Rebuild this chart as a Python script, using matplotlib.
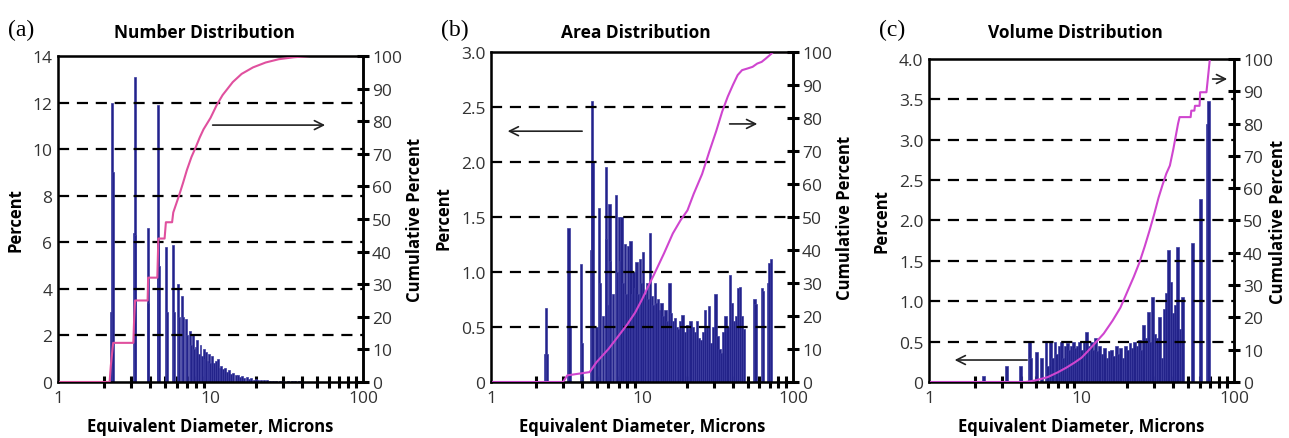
import matplotlib.pyplot as plt
import numpy as np

# ---- (a) Number distribution ----
a_diam = [2.22, 2.25, 2.28, 3.13, 3.18, 3.22, 3.88, 3.92, 4.5, 4.55, 4.6, 5.1, 5.15, 5.7, 5.75,
          6.15, 6.2, 6.55, 6.6, 6.95, 7.0, 7.3, 7.4, 7.7, 7.8, 8.0, 8.2, 8.4, 8.6, 8.8,
          9.0, 9.2, 9.4, 9.6, 9.8, 10.0, 10.3, 10.6, 10.9, 11.2, 11.5, 11.8, 12.1, 12.5, 12.9,
          13.3, 13.7, 14.1, 14.6, 15.1, 15.6, 16.1, 16.7, 17.3, 17.9, 18.5, 19.2, 19.9, 20.6, 21.5,
          22.5, 23.5, 24.5, 25.6, 27, 28.5, 30, 32, 34, 36, 38, 40, 43, 46]
a_pct = [3.0, 12.0, 9.0, 6.4, 13.1, 6.3, 6.6, 3.4, 6.0, 11.9, 5.0, 5.8, 3.0, 5.9, 3.0,
         4.2, 2.8, 3.7, 2.8, 2.7, 2.0, 2.2, 1.6, 2.0, 1.4, 1.5, 1.8, 1.2, 1.6, 1.1,
         1.4, 1.0, 1.3, 0.9, 1.2, 0.8, 1.1, 0.8, 0.9, 1.0, 0.6, 0.7, 0.55, 0.6, 0.45,
         0.5, 0.35, 0.4, 0.3, 0.32, 0.22, 0.25, 0.18, 0.2, 0.14, 0.15, 0.1, 0.12, 0.09, 0.08,
         0.07, 0.07, 0.06, 0.05, 0.05, 0.04, 0.04, 0.04, 0.03, 0.03, 0.03, 0.02, 0.02, 0.02]
a_cum_x = [1, 2.18, 2.22, 2.3, 3.12, 3.15, 3.2, 3.87, 3.9, 4.48, 4.55, 5.0, 5.1, 5.6, 5.7, 6.2,
           6.6, 7.0, 7.5, 8.0, 8.5, 9.0, 10, 11, 12, 14, 16, 19, 23, 28, 35, 45, 100]
a_cum = [0, 0, 5, 12, 12, 18, 25, 25, 32, 32, 44, 44, 49, 49, 52, 57,
         61, 65, 69, 72, 75, 77.5, 81, 85, 88, 92, 94.5, 96.5, 98, 99, 99.6, 100, 100]

# ---- (b) Area distribution ----
b_diam = [2.28, 2.32, 2.36, 3.27, 3.31, 3.95, 4.0, 4.62, 4.66, 4.7, 5.0, 5.2, 5.25, 5.5, 5.75,
          5.8, 6.0, 6.1, 6.15, 6.4, 6.7, 6.8, 7.05, 7.15, 7.3, 7.5, 7.7, 7.9, 8.1, 8.4,
          8.6, 8.8, 9.0, 9.2, 9.45, 9.7, 9.95, 10.2, 10.5, 10.8, 11.0, 11.3, 11.6, 11.9, 12.2,
          12.5, 12.8, 13.1, 13.5, 13.9, 14.3, 14.7, 15.2, 15.6, 16.0, 16.5, 17.0, 17.5, 18.0, 18.6,
          19.2, 19.8, 20.4, 21.0, 21.7, 22.4, 23.1, 23.8, 24.6, 25.4, 26.2, 27.0, 27.9, 28.8, 29.7,
          30.6, 31.6, 32.6, 33.6, 34.7, 35.8, 36.9, 38.1, 39.3, 40.5, 41.8, 43.1, 44.5, 45.9, 47.4,
          55.5, 56.5, 62.5, 63.5, 68.5, 70, 71.5]
b_pct = [0.25, 0.67, 0.25, 1.4, 0.5, 1.07, 0.35, 1.2, 2.55, 2.0, 0.5, 1.58, 0.9, 0.6, 1.95,
         1.3, 0.7, 1.62, 1.1, 0.8, 1.7, 1.0, 1.5, 1.1, 1.5, 0.9, 1.25, 0.8, 1.24, 1.28,
         0.8, 1.0, 0.85, 1.09, 0.8, 1.12, 0.9, 1.18, 0.8, 0.9, 0.75, 1.35, 0.78, 0.7, 0.9,
         0.72, 0.75, 0.65, 0.72, 0.6, 0.65, 0.55, 0.9, 0.63, 0.55, 0.58, 0.5, 0.48, 0.55, 0.61,
         0.45, 0.52, 0.48, 0.55, 0.5, 0.45, 0.55, 0.4, 0.38, 0.45, 0.65, 0.5, 0.69, 0.35, 0.5,
         0.8, 0.42, 0.3, 0.26, 0.45, 0.6, 0.5, 0.97, 0.72, 0.55, 0.6, 0.85, 0.86, 0.6, 0.48,
         0.75, 0.71, 0.85, 0.83, 0.9, 1.08, 1.12]
b_cum_x = [1, 3.0, 3.2, 4.5, 5, 6, 7, 8, 9, 10, 11, 12, 14, 16, 18, 20, 22, 25, 28, 31,
           34, 37, 40, 43, 46, 50, 54, 58, 62, 66, 70, 74, 100]
b_cum = [0, 0, 2, 3, 6, 10, 14, 17.5, 21, 25, 29, 32.5, 39, 45, 49, 52, 57, 63, 70, 76,
         82, 86.5, 90, 93, 94.5, 95, 95.5, 96.5, 97, 98, 99, 100, 100]

# ---- (c) Volume distribution ----
c_diam = [2.27, 3.23, 4.0, 4.55, 4.65, 5.05, 5.45, 5.85, 6.0, 6.25, 6.45, 6.7, 6.9, 7.15, 7.4,
          7.6, 7.85, 8.1, 8.35, 8.6, 8.85, 9.1, 9.4, 9.7, 10.0, 10.4, 10.8, 11.2, 11.6, 12.0,
          12.4, 12.8, 13.2, 13.7, 14.2, 14.7, 15.2, 15.7, 16.3, 16.9, 17.5, 18.1, 18.7, 19.4, 20.1,
          20.8, 21.5, 22.3, 23.1, 23.9, 24.7, 25.6, 26.5, 27.4, 28.4, 29.4, 30.4, 31.5, 32.6, 33.7,
          34.9, 36.1, 37.4, 38.7, 40.0, 41.4, 42.8, 44.3, 45.8, 53.5, 60.5, 66.5, 68.0]
c_pct = [0.07, 0.2, 0.2, 0.5, 0.3, 0.37, 0.3, 0.5, 0.2, 0.5, 0.3, 0.5, 0.35, 0.45, 0.5,
         0.3, 0.45, 0.48, 0.4, 0.45, 0.5, 0.42, 0.45, 0.5, 0.4, 0.5, 0.62, 0.45, 0.5, 0.4,
         0.55, 0.38, 0.45, 0.35, 0.42, 0.3, 0.38, 0.4, 0.32, 0.45, 0.35, 0.42, 0.3, 0.45, 0.4,
         0.48, 0.42, 0.5, 0.45, 0.52, 0.4, 0.7, 0.55, 0.87, 0.5, 1.05, 0.6, 0.55, 0.8, 0.3,
         0.9, 1.1, 1.63, 1.24, 0.85, 0.95, 1.67, 0.65, 1.05, 1.72, 2.27, 3.2, 3.48]
c_cum_x = [1, 4.3, 5, 6, 7, 8, 9, 10, 11, 12, 14, 16, 18, 20, 22, 24, 26, 28, 30, 32,
           34, 36, 38, 40, 43, 44, 52, 52.5, 55, 55.5, 59.5, 60, 66, 69.5, 100]
c_cum = [0, 0, 0.5, 1.5, 3, 4.5, 6, 7.5, 9.5, 11.5, 15, 19, 23, 28, 32.5, 37, 42, 47, 52, 57,
         61, 64.5, 67, 72, 80, 82, 82, 84, 84, 85.5, 85.5, 89.7, 89.7, 100, 100]

panels = [
    dict(diam=a_diam, pct=a_pct, cx=a_cum_x, cy=a_cum, ymax=14, yticks=[0, 2, 4, 6, 8, 10, 12, 14],
         ylabels=['0', '2', '4', '6', '8', '10', '12', '14'], bw=0.03,
         rect=[0.045, 0.1276, 0.2366, 0.7426], title='Number Distribution', tag='(a)',
         line='#e0509e', arrows=[((0.498, 0.788), (0.885, 0.788))]),
    dict(diam=b_diam, pct=b_pct, cx=b_cum_x, cy=b_cum, ymax=3.0, yticks=[0, 0.5, 1.0, 1.5, 2.0, 2.5, 3.0],
         ylabels=['0', '0.5', '1.0', '1.5', '2.0', '2.5', '3.0'], bw=0.036,
         rect=[0.3809, 0.1276, 0.2343, 0.7517], title='Area Distribution', tag='(b)',
         line='#cf45cf', arrows=[((0.311, 0.76), (0.046, 0.76)), ((0.781, 0.782), (0.891, 0.782))]),
    dict(diam=c_diam, pct=c_pct, cx=c_cum_x, cy=c_cum, ymax=4.0, yticks=[0, 0.5, 1.0, 1.5, 2.0, 2.5, 3.0, 3.5, 4.0],
         ylabels=['0', '0.5', '1.0', '1.5', '2.0', '2.5', '3.0', '3.5', '4.0'], bw=0.042,
         rect=[0.7207, 0.1276, 0.2366, 0.7358], title='Volume Distribution', tag='(c)',
         line='#cf45cf', arrows=[((0.331, 0.068), (0.075, 0.068)), ((0.921, 0.938), (0.987, 0.938))]),
]

fig = plt.figure(figsize=(12.89, 4.39), dpi=100)
font = 'Open Sans'

for i, p in enumerate(panels):
    ax = fig.add_axes(p['rect'])
    d = np.array(p['diam'])
    ax.bar(d, p['pct'], width=d * p['bw'], color='#23238a', edgecolor='#3c3ca0', linewidth=0.5, zorder=2)
    ax.set_xscale('log')
    ax.set_xlim(1, 100)
    ax.set_ylim(0, p['ymax'])
    ax.set_yticks(p['yticks'])
    ax.set_yticklabels(p['ylabels'], fontsize=12.5, color='#333333', family=font)
    ax.set_xticks([1, 10, 100])
    ax.set_xticklabels(['1', '10', '100'], fontsize=12.5, color='#333333', family=font)
    ax.tick_params(axis='y', length=0, pad=4)
    ax.tick_params(axis='x', which='major', length=0, pad=6)
    ax.tick_params(axis='x', which='minor', direction='inout', length=8, width=2.2)
    for yv in p['yticks'][1:-1]:
        ax.axhline(yv, color='black', linestyle=(0, (5, 3.5)), linewidth=1.6, zorder=3)
    for s in ax.spines.values():
        s.set_linewidth(1.8)
    ax.set_ylabel('Percent', fontsize=12, fontweight='bold', family=font, labelpad=6)
    ax.set_xlabel('Equivalent Diameter, Microns', fontsize=12, fontweight='bold', family=font, labelpad=8)

    ax2 = ax.twinx()
    ax2.plot(p['cx'], p['cy'], color=p['line'], linewidth=1.5)
    ax2.set_ylim(0, 100)
    ax2.set_yticks(range(0, 101, 10))
    ax2.set_yticklabels([str(v) for v in range(0, 101, 10)], fontsize=12.5, color='#333333', family=font)
    ax2.tick_params(axis='y', direction='inout', length=9, width=2.2, pad=2)
    ax2.spines['right'].set_linewidth(1.8)
    ax2.set_ylabel('Cumulative Percent', fontsize=12, fontweight='bold', family=font, labelpad=3)
    if i == 2:
        ax2.yaxis.set_label_coords(1.115, 0.5)

    for start, end in p['arrows']:
        ax2.annotate('', xy=end, xytext=start, xycoords='axes fraction', textcoords='axes fraction',
                     arrowprops=dict(arrowstyle='->', color='#222222', lw=1.2, mutation_scale=16))

    x0, y0, w, h = p['rect']
    fig.text(x0 + w * 0.48, 0.925, p['title'], ha='center', va='center', fontsize=12.5,
             fontweight='bold', family=font)
    fig.text(x0 - 0.039, 0.93, p['tag'], ha='left', va='center', fontsize=17, family='Liberation Serif')

fig.savefig('out.png', dpi=100, facecolor='white')
